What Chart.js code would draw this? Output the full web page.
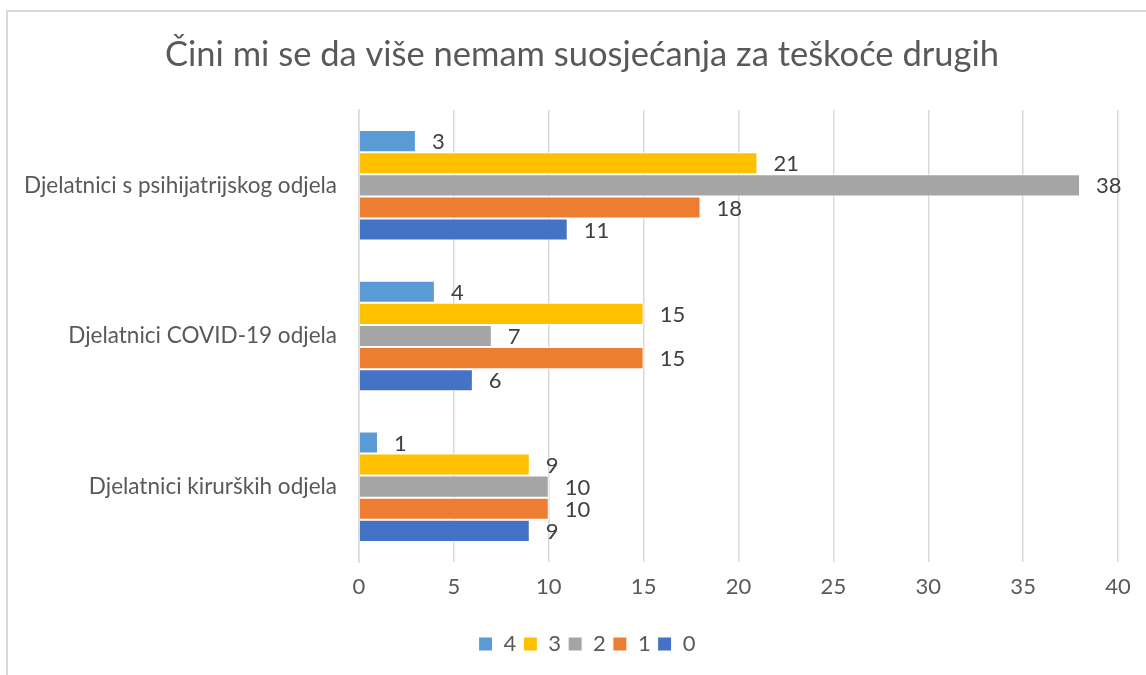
<!DOCTYPE html>
<html>
<head>
<meta charset="utf-8">
<script src="https://cdn.jsdelivr.net/npm/chart.js@4.4.1/dist/chart.umd.min.js"></script>
<style>
  html, body { margin: 0; padding: 0; background: #fff; }
  #wrap { width: 1146px; height: 675px; position: relative; }
</style>
</head>
<body>
<div id="wrap"><canvas id="c" width="1146" height="675"></canvas></div>
<script>
const titleText = "Čini mi se da više nemam suosjećanja za teškoće drugih";
const categories = ["Djelatnici s psihijatrijskog odjela", "Djelatnici COVID-19 odjela", "Djelatnici kirurških odjela"];
const seriesNames = ["4", "3", "2", "1", "0"];
const values4 = [3, 4, 1];
const values3 = [21, 15, 9];
const values2 = [38, 7, 10];
const values1 = [18, 15, 10];
const values0 = [11, 6, 9];
const seriesColors = ["#5B9BD5", "#FFC000", "#A5A5A5", "#ED7D31", "#4472C4"];
const xTicksMin = 0, xTicksMax = 40, xTickStep = 5;

const allValues = [values4, values3, values2, values1, values0];
const FONT = "Lato, 'Open Sans', sans-serif";

const frame = {
  id: 'frame',
  afterLayout(chart) {
    // centre the legend on the outer chart frame rather than the canvas
    if (chart.legend) {
      chart.legend.left += 28;
      chart.legend.right += 28;
    }
  },
  beforeDraw(chart) {
    const ctx = chart.ctx;
    ctx.save();
    ctx.fillStyle = '#fff';
    ctx.fillRect(0, 0, chart.width, chart.height);
    ctx.strokeStyle = '#d9d9d9';
    ctx.lineWidth = 2;
    ctx.beginPath();
    ctx.moveTo(7, chart.height + 5);
    ctx.lineTo(7, 11);
    ctx.lineTo(chart.width + 5, 11);
    ctx.stroke();
    // chart title (centred on the outer chart frame)
    ctx.font = "34.5px " + FONT;
    ctx.fillStyle = '#595959';
    ctx.textAlign = 'center';
    ctx.textBaseline = 'middle';
    ctx.fillText(titleText, 582, 55);
    ctx.restore();
  }
};

const valueLabels = {
  id: 'valueLabels',
  afterDatasetsDraw(chart) {
    const ctx = chart.ctx;
    ctx.save();
    ctx.font = "22px " + FONT;
    ctx.fillStyle = '#404040';
    ctx.textAlign = 'left';
    ctx.textBaseline = 'middle';
    chart.data.datasets.forEach((ds, i) => {
      const meta = chart.getDatasetMeta(i);
      meta.data.forEach((el, j) => {
        ctx.fillText(String(ds.data[j]), el.x + 16, el.y + 1);
      });
    });
    ctx.restore();
  }
};

new Chart(document.getElementById('c'), {
  type: 'bar',
  data: {
    labels: categories,
    datasets: seriesNames.map((n, i) => ({
      label: n,
      data: allValues[i],
      backgroundColor: seriesColors[i],
      borderColor: '#ffffff',
      borderWidth: 1,
      borderSkipped: 'start',
      categoryPercentage: 0.733,
      barPercentage: 1.0
    }))
  },
  options: {
    indexAxis: 'y',
    responsive: false,
    animation: false,
    devicePixelRatio: 1,
    layout: { padding: { left: 0, right: 28, top: 110, bottom: 10 } },
    scales: {
      x: {
        min: xTicksMin, max: xTicksMax,
        ticks: { stepSize: xTickStep, color: '#595959', font: { size: 22, family: FONT }, padding: 12 },
        grid: { color: '#d9d9d9', lineWidth: 1.5, drawTicks: false },
        border: { display: false },
        afterFit(s) { s.height = 64; }
      },
      y: {
        ticks: { color: '#595959', font: { size: 22.5, family: FONT }, padding: 22 },
        grid: { display: false, drawTicks: false },
        border: { display: true, color: '#d9d9d9', width: 1.5 },
        afterFit(s) { s.width = 359; }
      }
    },
    plugins: {
      title: { display: false },
      legend: {
        position: 'bottom',
        labels: {
          color: '#595959',
          font: { size: 22, family: FONT },
          boxWidth: 14, boxHeight: 14,
          padding: 7
        }
      },
      tooltip: { enabled: false }
    }
  },
  plugins: [frame, valueLabels]
});
</script>
</body>
</html>
